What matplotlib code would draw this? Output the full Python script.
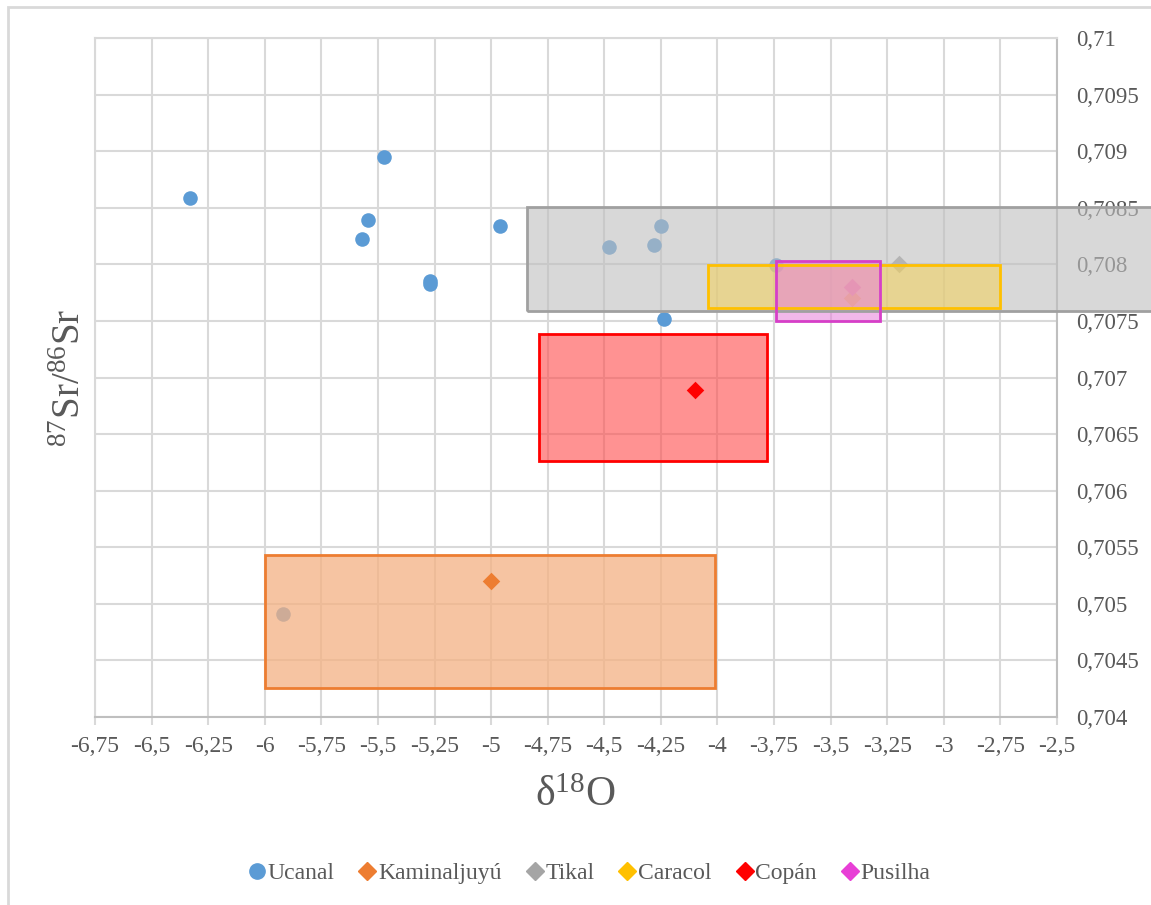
import matplotlib
matplotlib.use("Agg")
import matplotlib.pyplot as plt
from matplotlib.patches import Rectangle
from matplotlib.lines import Line2D
import numpy as np

plt.rcParams.update({"font.family": "Liberation Serif", "mathtext.fontset": "custom",
                     "mathtext.rm": "Liberation Serif", "mathtext.it": "Liberation Serif"})

TXT = "#595959"
GRID = "#d9d9d9"

# Ucanal samples (d18O, 87Sr/86Sr)
ucanal_x = [-6.33, -5.475, -5.545, -5.57, -5.27, -5.27, -4.96, -4.48, -4.28, -4.25, -4.235, -3.74, -5.92]
ucanal_y = [0.70859, 0.70895, 0.70839, 0.70822, 0.70785, 0.70783, 0.70834, 0.70815, 0.70817, 0.70834, 0.70752, 0.70799, 0.70491]

# site means (diamonds)
sites = ["Kaminaljuyú", "Tikal", "Caracol", "Copán", "Pusilha"]
site_x = [-5.0, -3.2, -3.405, -4.10, -3.405]
site_y = [0.7052, 0.70800, 0.7077, 0.70689, 0.7078]
site_colors = ["#ed7d31", "#a5a5a5", "#ffc000", "#ff0000", "#e83fd6"]
site_on_top = [True, False, False, True, False]

# site ranges: x0, x1, y0, y1
box_x0 = [-6.00, -4.84, -4.04, -4.79, -3.74]
box_x1 = [-4.01, -2.05, -2.75, -3.78, -3.28]
box_y0 = [0.70426, 0.70759, 0.70761, 0.70626, 0.70750]
box_y1 = [0.70543, 0.70851, 0.70799, 0.70738, 0.70803]
box_face = ["#f4b183", "#bfbfbf", "#f4d25a", "#ff4a4a", "#e77fd9"]
box_edge = ["#ed7d31", "#a0a0a0", "#ffc000", "#ff0000", "#d63fc8"]
box_alpha = [0.75, 0.6, 0.55, 0.6, 0.55]

fig = plt.figure(figsize=(11.51, 9.05), dpi=100)
fig.patches.append(Rectangle((8 / 1151, -0.01), 1.1, 1 - 7 / 905 + 0.01, transform=fig.transFigure,
                             fill=False, edgecolor=GRID, lw=2))
ax = fig.add_axes([95 / 1151, 1 - 717 / 905, (1057 - 95) / 1151, (717 - 38) / 905])

ax.scatter(ucanal_x, ucanal_y, s=110, color="#5b9bd5", zorder=3, linewidths=0)
for x, y, c, top in zip(site_x, site_y, site_colors, site_on_top):
    ax.scatter([x], [y], s=80, marker="D", color=c, zorder=6 if top else 3, linewidths=0)

for x0, x1, y0, y1, fc, ec, a in zip(box_x0, box_x1, box_y0, box_y1, box_face, box_edge, box_alpha):
    ax.add_patch(Rectangle((x0, y0), x1 - x0, y1 - y0, facecolor=fc, alpha=a, zorder=4,
                           edgecolor="none", clip_on=False))
    ax.add_patch(Rectangle((x0, y0), x1 - x0, y1 - y0, facecolor="none", edgecolor=ec, lw=2,
                           zorder=5, clip_on=False))

ax.set_xlim(-6.75, -2.5)
ax.set_ylim(0.704, 0.71)
xt = np.arange(-6.75, -2.49, 0.25)
yt = np.arange(0.704, 0.71001, 0.0005)
ax.set_xticks(xt)
ax.set_xticklabels([f"{v:g}".replace(".", ",") for v in xt])
ax.set_yticks(yt)
ax.set_yticklabels([f"{round(v, 4):g}".replace(".", ",") for v in yt])
ax.yaxis.tick_right()
ax.tick_params(axis="y", length=0, pad=14, labelsize=16.5, labelcolor=TXT)
ax.tick_params(axis="x", length=6, width=1.5, color=GRID, pad=8, labelsize=17, labelcolor=TXT)
ax.grid(True, color=GRID, lw=1.5, zorder=0)
ax.set_axisbelow(True)
for s in ("top", "left"):
    ax.spines[s].set_color(GRID)
    ax.spines[s].set_linewidth(1.5)
for s in ("bottom", "right"):
    ax.spines[s].set_color("#bfbfbf")
    ax.spines[s].set_linewidth(1.5)

fig.text(575 / 1151, 1 - 796 / 905, r"δ$^{18}$O", ha="center", va="center", fontsize=30, color=TXT)
fig.text(70 / 1151, 1 - 378 / 905, r"$^{87}$Sr/$^{86}$Sr", ha="center", va="center",
         rotation=90, fontsize=28, color=TXT)

handles = [Line2D([], [], ls="none", marker="o", ms=11, color="#5b9bd5", label="Ucanal")]
for n, c in zip(sites, site_colors):
    handles.append(Line2D([], [], ls="none", marker="D", ms=9, color=c, label=n))
fig.legend(handles=handles, loc="center", bbox_to_anchor=(590 / 1151, 1 - 873 / 905), ncol=6,
           frameon=False, fontsize=17, handlelength=0.6, handletextpad=0.15, columnspacing=1.1,
           labelcolor=TXT)

fig.savefig("out.png", dpi=100)
